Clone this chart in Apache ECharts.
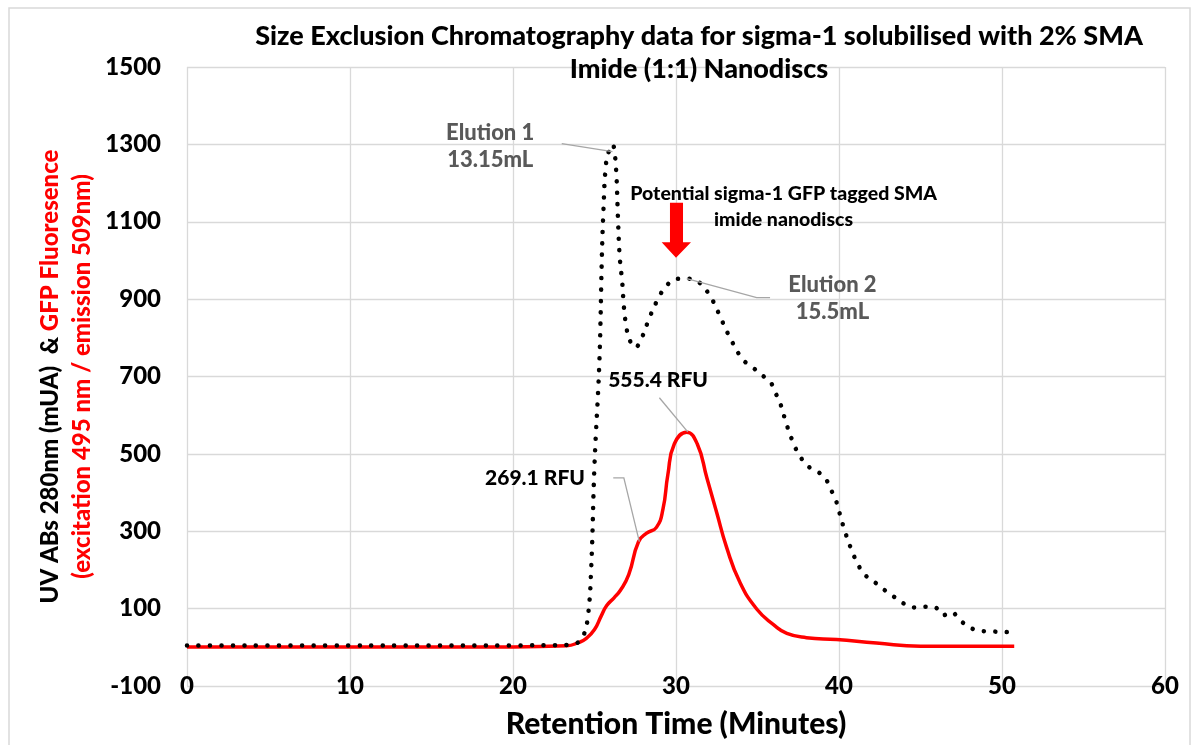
<!DOCTYPE html>
<html>
<head>
<meta charset="utf-8">
<title>SEC sigma-1</title>
<script src="https://cdn.jsdelivr.net/npm/echarts@6/dist/echarts.min.js"></script>
<style>
    html, body { margin: 0; padding: 0; background: #fff; }
    #main { width: 1199px; height: 745px; }
</style>
</head>
<body>
<div id="main"></div>
<script>
// UV 280nm trace (dotted black)
var uvTime = [0, 10, 20, 23.5, 23.9, 24.3, 24.6, 24.8, 25.0, 25.3, 25.45, 25.55, 25.7, 25.9, 26.1, 26.3, 26.45, 26.55, 26.7, 26.8, 26.95, 27.15, 27.5, 27.9, 28.4, 29.0, 29.4, 30.0, 30.65, 31.4, 32.2, 32.8, 33.4, 34.1, 34.75, 35.3, 35.8, 36.1, 36.4, 36.8, 37.3, 37.65, 38.1, 38.7, 39.2, 39.5, 39.8, 40.0, 40.4, 40.9, 41.2, 41.6, 42.2, 42.7, 43.3, 43.9, 44.5, 45.2, 45.9, 46.4, 46.9, 47.4, 48.0, 48.6, 49.3, 50.0, 50.75];
var uvAbs  = [5, 5, 5, 6, 10, 28, 81, 206, 472, 740, 1007, 1131, 1247, 1285, 1300, 1250, 1096, 1007, 944, 882, 829, 795, 775, 800, 855, 909, 934, 952, 953, 944, 900, 846, 793, 744, 722, 703, 685, 658, 630, 574, 518, 491, 468, 454, 434, 408, 381, 352, 295, 238, 211, 187, 168, 151, 133, 115, 103, 105, 103, 83, 91, 71, 52, 43, 41, 40, 38];

// GFP fluorescence trace (red)
var gfpTime = [0, 10, 20, 23.3, 24.0, 24.5, 25.0, 25.4, 25.75, 26.2, 26.6, 27.1, 27.7, 28.2, 28.8, 29.2, 29.5, 29.9, 30.65, 31.3, 31.9, 32.5, 33.1, 33.9, 34.95, 36.0, 36.8, 38.0, 39.85, 42.3, 45.0, 50.75];
var gfpRfu  = [1, 1, 1, 4, 12, 23, 46, 80, 108, 128, 148, 188, 273, 295, 310, 357, 446, 526, 556, 526, 437, 348, 259, 170, 99, 58, 36, 25, 20, 11, 3, 3];

// annotations: text + anchor in data coords
var annoText = ['Elution 1\n13.15mL', 'Elution 2\n15.5mL', '555.4 RFU', '269.1 RFU', 'Potential sigma-1 GFP tagged SMA\nimide nanodiscs'];
var annoAt   = [[18.6, 1295], [39.6, 903], [28.9, 691], [21.35, 437], [36.6, 1138]];
var annoColor = ['#595959', '#595959', '#000', '#000', '#000'];
var annoSize  = [22, 22, 21, 21, 19.5];

// leader lines (data coords)
var leaders = [
    [[22.99, 1302], [26.1, 1281]],
    [[30.66, 953], [34.95, 904], [35.77, 904]],
    [[28.98, 645], [30.72, 557]],
    [[26.15, 438], [26.8, 438], [27.75, 273]]
];

// red arrow above elution 2
var arrowPts = [[29.63, 1149], [30.43, 1149], [30.43, 1047], [30.92, 1047], [30.0, 1007], [29.12, 1047], [29.63, 1047]];

var FONT = 'Lato, "Liberation Sans", sans-serif';
var W = 900;

function pairs(xs, ys) {
    var out = [];
    for (var i = 0; i < xs.length; i++) out.push([xs[i], ys[i]]);
    return out;
}

var chart = echarts.init(document.getElementById('main'));
chart.setOption({
    animation: false,
    backgroundColor: '#fff',
    title: {
        text: 'Size Exclusion Chromatography data for sigma-1 solubilised with 2% SMA\nImide (1:1) Nanodiscs',
        left: 694,
        top: 15,
        textAlign: 'center',
        textStyle: {
            fontFamily: FONT,
            fontWeight: W,
            fontSize: 27,
            lineHeight: 33,
            color: '#000'
        }
    },
    grid: {
        left: 187,
        right: 34,
        top: 67,
        bottom: 59
    },
    xAxis: {
        type: 'value',
        min: 0,
        max: 60,
        interval: 10,
        name: 'Retention Time (Minutes)',
        nameLocation: 'middle',
        nameGap: 23,
        nameTextStyle: {
            fontFamily: FONT,
            fontWeight: W,
            fontSize: 30,
            color: '#000'
        },
        axisLine: { show: false },
        axisTick: { show: false },
        axisLabel: {
            margin: -12,
            fontFamily: FONT,
            fontWeight: W,
            fontSize: 24,
            color: '#000'
        },
        splitLine: {
            lineStyle: { color: '#d9d9d9', width: 1.3 }
        }
    },
    yAxis: {
        type: 'value',
        min: -100,
        max: 1500,
        interval: 200,
        name: '{k|UV ABs 280nm (mUA)  & }{r|GFP Fluoresence}\n{r|(excitation 495 nm / emission 509nm)}',
        nameLocation: 'middle',
        nameRotate: 90,
        nameGap: 82,
        nameTextStyle: {
            align: 'center',
            rich: {
                k: { color: '#000', fontFamily: FONT, fontWeight: W, fontSize: 24, lineHeight: 32 },
                r: { color: '#ff0000', fontFamily: FONT, fontWeight: W, fontSize: 24, lineHeight: 32 }
            }
        },
        axisLine: { show: false },
        axisTick: { show: false },
        axisLabel: {
            margin: 26,
            fontFamily: FONT,
            fontWeight: W,
            fontSize: 24,
            color: '#000',
            formatter: function (v) { return String(v); }
        },
        splitLine: {
            lineStyle: { color: '#d9d9d9', width: 1.3 }
        }
    },
    series: [
        {
            name: 'GFP',
            type: 'line',
            data: pairs(gfpTime, gfpRfu),
            showSymbol: false,
            smooth: 0.5,
            lineStyle: { color: '#ff0000', width: 3.5 },
            z: 2
        },
        {
            name: 'UV',
            type: 'line',
            data: pairs(uvTime, uvAbs),
            showSymbol: false,
            smooth: 0.4,
            lineStyle: { color: '#000', width: 4.5, type: [0.1, 11.4], cap: 'round' },
            z: 3
        }
    ]
});

// annotations placed through the grid's own scale
function px(p) { return chart.convertToPixel({ gridIndex: 0 }, p); }

var g = [];
g.push({
    type: 'rect',
    shape: { x: 9, y: 8, width: 1181, height: 745 },
    style: { fill: null, stroke: '#d9d9d9', lineWidth: 1.5 },
    silent: true,
    z: 0
});
leaders.forEach(function (pts) {
    g.push({
        type: 'polyline',
        shape: { points: pts.map(px) },
        style: { stroke: '#a6a6a6', lineWidth: 1.3, fill: null },
        z: 10
    });
});
g.push({
    type: 'polygon',
    shape: { points: arrowPts.map(px) },
    style: { fill: '#ff0000' },
    z: 10
});
annoText.forEach(function (t, i) {
    var p = px(annoAt[i]);
    g.push({
        type: 'text',
        x: p[0],
        y: p[1],
        style: {
            text: t,
            fill: annoColor[i],
            font: W + ' ' + annoSize[i] + 'px ' + FONT,
            lineHeight: i === 4 ? 26 : 27,
            align: 'center',
            verticalAlign: 'middle'
        },
        z: 11
    });
});
chart.setOption({ graphic: g });
</script>
</body>
</html>
